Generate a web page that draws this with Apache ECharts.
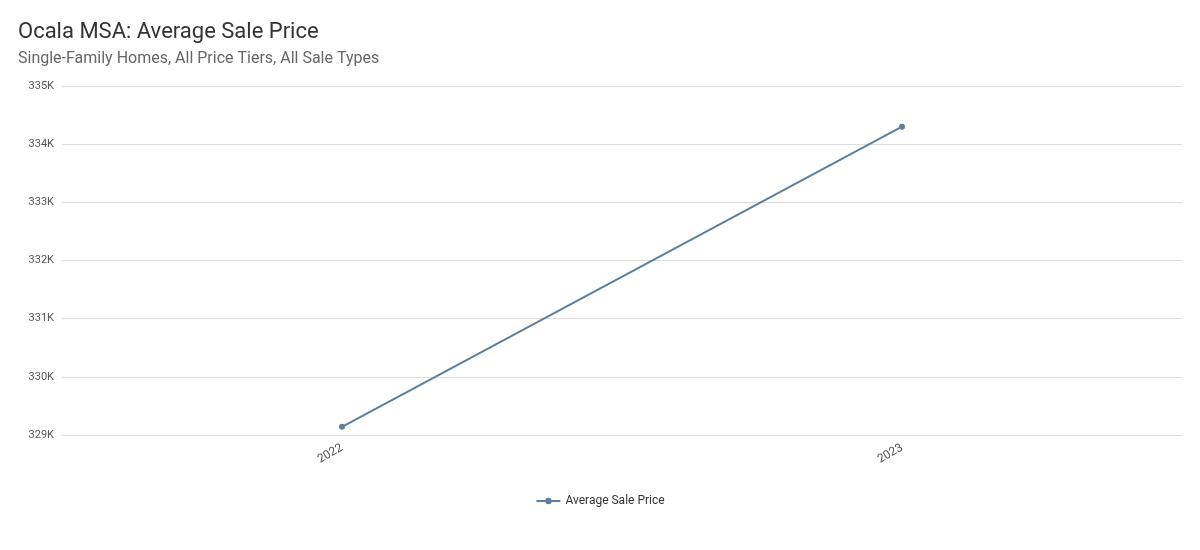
<!DOCTYPE html>
<html><head><meta charset="utf-8">
<script src="https://cdn.jsdelivr.net/npm/echarts@6/dist/echarts.min.js"></script>
<style>html,body{margin:0;background:#fff}#c{width:1200px;height:550px}</style>
</head><body><div id="c"></div>
<script>
var years = ['2022', '2023'];
var avgPrice = [329140, 334300];

var chart = echarts.init(document.getElementById('c'));
chart.setOption({
    textStyle: {fontFamily: 'Roboto'},
    title: {
        text: 'Ocala MSA: Average Sale Price',
        subtext: 'Single-Family Homes, All Price Tiers, All Sale Types',
        left: 13, top: 16, itemGap: 8,
        textStyle: {fontSize: 22, fontWeight: 'normal', color: '#333'},
        subtextStyle: {fontSize: 16, color: '#666'}
    },
    legend: {
        data: ['Average Sale Price'],
        bottom: 38,
        itemWidth: 24, itemHeight: 8,
        textStyle: {fontSize: 12, color: '#333'}
    },
    grid: {left: 62, right: 18, top: 86, bottom: 115},
    xAxis: {
        type: 'category',
        data: years,
        axisLine: {show: false},
        axisTick: {show: false},
        axisLabel: {rotate: 30, color: '#555', fontSize: 12, margin: 12}
    },
    yAxis: {
        type: 'value',
        min: 329000, max: 335000, interval: 1000,
        axisLabel: {color: '#555', fontSize: 11, formatter: function(v){ return (v/1000) + 'K'; }},
        splitLine: {lineStyle: {color: '#ddd'}}
    },
    series: [{
        name: 'Average Sale Price',
        type: 'line',
        data: avgPrice,
        symbol: 'circle',
        symbolSize: 6,
        itemStyle: {color: '#5b7f9c'},
        lineStyle: {width: 2, color: '#5b7f9c'}
    }]
});
</script></body></html>
